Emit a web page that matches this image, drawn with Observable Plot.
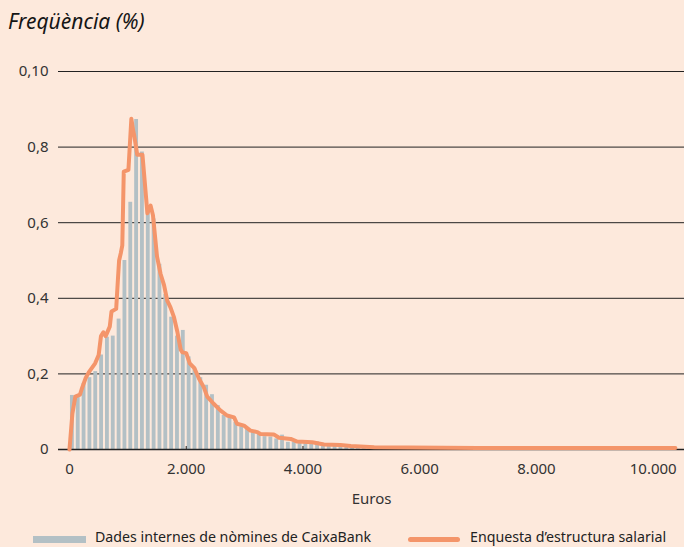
<!DOCTYPE html>
<html>
<head>
<meta charset="utf-8">
<script src="https://cdn.jsdelivr.net/npm/d3@7"></script>
<script src="https://cdn.jsdelivr.net/npm/@observablehq/plot@0.6"></script>
<style>
  html, body { margin: 0; padding: 0; background: #fde9dc; }
  #page { position: relative; width: 684px; height: 547px; overflow: hidden; background: #fde9dc; font-family: "Noto Sans", sans-serif; }
  #title { position: absolute; left: 8px; top: 9px; font-size: 21px; line-height: 24px; font-style: italic; color: #151515; }
  #chart { position: absolute; left: 0; top: 0; }
  .leg { position: absolute; top: 528px; font-size: 14.2px; line-height: 18px; color: #222; white-space: nowrap; }
  .sw-bar { position: absolute; left: 33px; top: 536px; width: 53px; height: 7px; background: #b3c0c5; }
  .sw-line { position: absolute; left: 408px; top: 537px; width: 52px; height: 5px; border-radius: 3px; background: #f4956a; }
</style>
</head>
<body>
<div id="page">
  <div id="chart"></div>
  <div id="title">Freqüència (%)</div>
  <div class="sw-bar"></div>
  <div class="leg" style="left:95px">Dades internes de nòmines de CaixaBank</div>
  <div class="sw-line"></div>
  <div class="leg" style="left:470px">Enquesta d’estructura salarial</div>
</div>
<script>
// Axis ticks
const xTicks = [0, 2000, 4000, 6000, 8000, 10000];
const xTickLabels = ["0", "2.000", "4.000", "6.000", "8.000", "10.000"];
const yTicks = [0, 0.2, 0.4, 0.6, 0.8, 1.0];
const yTickLabels = ["0", "0,2", "0,4", "0,6", "0,8", "0,10"];

// Bars: CaixaBank payroll data (bin start in euros, bin width 100)
const binWidth = 100;
const binStart = [0, 100, 200, 300, 400, 500, 600, 700, 800, 900,
  1000, 1100, 1200, 1300, 1400, 1500, 1600, 1700, 1800, 1900,
  2000, 2100, 2200, 2300, 2400, 2500, 2600, 2700, 2800, 2900,
  3000, 3100, 3200, 3300, 3400, 3500, 3600, 3700, 3800, 3900,
  4000, 4100, 4200, 4300, 4400, 4500, 4600, 4700, 4800, 4900,
  5000, 5100, 5200, 5300, 5400, 5500, 5600, 5700, 5800, 5900];
const binValues = [0.143, 0.145, 0.175, 0.19, 0.206, 0.25, 0.297, 0.30, 0.345, 0.50,
  0.654, 0.873, 0.787, 0.645, 0.61, 0.49, 0.41, 0.35, 0.30, 0.315,
  0.245, 0.215, 0.19, 0.17, 0.145, 0.116, 0.09, 0.085, 0.072, 0.06,
  0.058, 0.046, 0.041, 0.034, 0.033, 0.028, 0.038, 0.019, 0.019, 0.017,
  0.015, 0.015, 0.02, 0.012, 0.01, 0.009, 0.008, 0.007, 0.006, 0.005,
  0.005, 0.004, 0.004, 0.004, 0.003, 0.003, 0.003, 0.003, 0.003, 0.002];

// Line: Enquesta d'estructura salarial
const lineEuros = [0, 50, 100, 180, 210, 280, 330, 440, 500, 540, 580, 620, 690, 720, 800, 830, 850, 880, 905, 930,
  1010, 1060, 1095, 1110, 1160, 1250, 1335, 1390, 1430, 1500, 1560, 1620, 1675, 1730, 1790, 1850, 1905, 1935,
  2000, 2060, 2140, 2220, 2300, 2360, 2470, 2590, 2700, 2820, 2870, 2990, 3100, 3220, 3270, 3500, 3590, 3790,
  3900, 4160, 4360, 4640, 4820, 5220, 5800, 7000, 8500, 10380];
const lineValues = [0, 0.095, 0.14, 0.145, 0.16, 0.19, 0.204, 0.228, 0.25, 0.30, 0.31, 0.30, 0.325, 0.365, 0.372, 0.45, 0.50, 0.52, 0.54, 0.735,
  0.74, 0.875, 0.84, 0.83, 0.78, 0.78, 0.625, 0.645, 0.62, 0.51, 0.465, 0.435, 0.394, 0.376, 0.35, 0.31, 0.264, 0.257,
  0.255, 0.228, 0.215, 0.187, 0.165, 0.14, 0.121, 0.103, 0.09, 0.085, 0.068, 0.063, 0.05, 0.046, 0.041, 0.04, 0.031, 0.028,
  0.021, 0.019, 0.013, 0.012, 0.009, 0.006, 0.005, 0.004, 0.004, 0.004];

const bars = binStart.map((s, i) => ({start: s, end: s + binWidth, value: binValues[i]}));
const lineData = lineEuros.map((e, i) => ({e, v: lineValues[i]}));

const chart = Plot.plot({
  width: 684,
  height: 515,
  marginTop: 71,
  marginBottom: 66,
  marginLeft: 58,
  marginRight: 0,
  x: {domain: [-188, 10536]},
  y: {domain: [0, 1]},
  style: {background: "transparent", fontFamily: "Noto Sans, sans-serif", fontSize: "15px", color: "#333", overflow: "visible"},
  marks: [
    Plot.gridY(yTicks, {stroke: "#222", strokeOpacity: 1, strokeWidth: 1}),
    Plot.rectY(bars, {x1: "start", x2: "end", y1: d => 0, y2: "value", fill: "#b3c0c5", insetLeft: 1, insetRight: 1}),
    Plot.ruleY([0], {stroke: "#222", strokeWidth: 1.4}),
    Plot.tickX(xTicks, {x: d => d, stroke: "#222", strokeWidth: 1, insetTop: 375}),
    Plot.line(lineData, {x: "e", y: "v", stroke: "#f4956a", strokeWidth: 4, strokeLinejoin: "round", strokeLinecap: "round"}),
    Plot.axisX(xTicks, {tickSize: 0, tickPadding: 14, tickFormat: d => xTickLabels[xTicks.indexOf(d)],
      label: "Euros", labelAnchor: "center", labelArrow: "none", labelOffset: 54}),
    Plot.axisY(yTicks, {tickSize: 0, tickPadding: 10, tickFormat: d => yTickLabels[yTicks.indexOf(d)], label: null})
  ]
});
document.getElementById("chart").appendChild(chart);
</script>
</body>
</html>
